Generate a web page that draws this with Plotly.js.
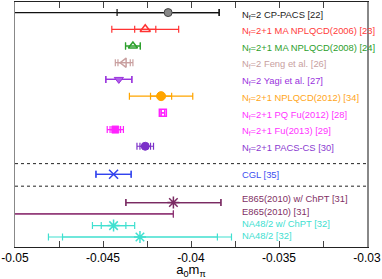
<!DOCTYPE html>
<html><head><meta charset="utf-8">
<script src="https://cdn.plot.ly/plotly-3.0.1.min.js"></script>
<style>html,body{margin:0;padding:0;background:#fff}#c{width:382px;height:279px}</style>
</head><body><div id="c"></div>
<script>
const labels = [
  "N<sub>f</sub>=2 CP-PACS [22]",
  "N<sub>f</sub>=2+1 MA NPLQCD(2006) [23]",
  "N<sub>f</sub>=2+1 MA NPLQCD(2008) [24]",
  "N<sub>f</sub>=2 Feng et al. [26]",
  "N<sub>f</sub>=2 Yagi et al. [27]",
  "N<sub>f</sub>=2+1 NPLQCD(2012) [34]",
  "N<sub>f</sub>=2+1 PQ Fu(2012) [28]",
  "N<sub>f</sub>=2+1 Fu(2013) [29]",
  "N<sub>f</sub>=2+1 PACS-CS [30]",
  "CGL [35]",
  "E865(2010) w/ ChPT [31]",
  "E865(2010) [31]",
  "NA48/2 w/ ChPT [32]",
  "NA48/2 [32]"
];
const rowPos   = [1, 2, 3, 4, 5, 6, 7, 8, 9, 10.68, 12.37, 13.05, 13.75, 14.43];
const labelPos = [1.15, 2.12, 3.1, 4.1, 5.1, 6.1, 7.1, 8.1, 9.1, 10.68, 12.15, 12.88, 13.65, 14.33];
const centers  = [-0.0413, -0.0426, -0.0433, -0.0438, -0.0441, -0.0417, -0.0416, -0.0443, -0.0426, -0.0444, -0.0410, -0.0520, -0.0444, -0.0429];
const statErr  = [0.0029, 0.0006, 0.00042, 0.00035, 0.00074, 0.0006, 0.0001, 0.0003, 0.0003, 0.0010, 0.0027, 0.0110, 0.0007, 0.0044];
const totPlus  = [0.0029, 0.0019, 0.00042, 0.0005, 0.00074, 0.0018, 0.0001, 0.00046, 0.00047, 0.0010, 0.0027, 0.0110, 0.0012, 0.0052];
const totMinus = [0.0100, 0.0019, 0.00042, 0.0005, 0.00074, 0.0018, 0.0001, 0.00046, 0.00047, 0.0010, 0.0027, 0.0110, 0.0012, 0.0052];
const colors   = ["#111111", "#ff3333", "#2ca02c", "#c9a0a0", "#9932dd", "#ffa500", "#ff22ff", "#ff22ff", "#7b30c8", "#3344ee", "#7a2a62", "#8e3474", "#40e0d0", "#40e0d0"];
const textColors = ["#222222", "#ff3b3b", "#2ca02c", "#c8a0a0", "#9932dd", "#ffa520", "#ff33ff", "#ff33ff", "#8a3ad0", "#3a4ef0", "#7f2f64", "#7f2f64", "#40e0d0", "#40e0d0"];
const symbols  = ["circle", "triangle-up-open", "triangle-up-open", "triangle-left-open", "triangle-down", "circle", "square-open", "square", "circle", "x-thin-open", "asterisk-open", "circle", "asterisk-open", "asterisk-open"];
const fills    = ["#888888", "#ff3333", "#2ca02c", "#c9a0a0", "#b060e8", "#ffa500", "#ff22ff", "#ff22ff", "#7b30c8", "#3344ee", "#7a2a62", "#8e3474", "#40e0d0", "#40e0d0"];
const sizes    = [8, 9, 8, 8, 8, 9, 7, 7, 8, 9, 10, 8, 10, 10];
const tickVals = [-0.05, -0.045, -0.04, -0.035, -0.03];
const tickText = ["-0.05", "-0.045", "-0.04", "-0.035", "-0.03"];

const traces = [];
for (let i = 0; i < labels.length; i++) {
  traces.push({
    type: "scatter", mode: "markers", x: [centers[i]], y: [rowPos[i]],
    marker: {size: 0.1, color: "rgba(0,0,0,0)"},
    error_x: {type: "data", symmetric: false, array: [totPlus[i]], arrayminus: [totMinus[i]],
              color: colors[i], thickness: 1.2, width: 3.5},
    hoverinfo: "skip", showlegend: false, cliponaxis: true
  });
  traces.push({
    type: "scatter", mode: "markers", x: [centers[i]], y: [rowPos[i]],
    marker: {symbol: symbols[i], size: sizes[i], color: fills[i],
             line: {color: i === 0 ? "#444" : colors[i], width: symbols[i].endsWith("open") ? 1.5 : 1}},
    error_x: {type: "data", array: [statErr[i]], color: colors[i], thickness: 1.2, width: 3.5},
    showlegend: false, cliponaxis: true
  });
}

const annotations = labels.map((t, i) => ({
  x: 0.643, xref: "paper", xanchor: "left", y: labelPos[i], yref: "y", yanchor: "middle",
  text: t, showarrow: false, borderpad: 0,
  font: {family: "Liberation Sans, Arial, sans-serif", size: 9.4, color: textColors[i]}
}));

const layout = {
  width: 382, height: 279,
  margin: {l: 15, r: 15, t: 2, b: 32},
  paper_bgcolor: "#fff", plot_bgcolor: "#fff",
  font: {family: "Liberation Sans, Arial, sans-serif", color: "#000"},
  xaxis: {
    range: [-0.05, -0.03], tickvals: tickVals, ticktext: tickText,
    ticks: "inside", ticklen: 6, tickcolor: "#444", tickwidth: 1,
    minor: {dtick: 0.0025, tick0: -0.05, ticks: "inside", ticklen: 6, tickcolor: "#444", tickwidth: 1},
    showline: true, linecolor: "#222", linewidth: 1, mirror: "ticks",
    showgrid: false, zeroline: false,
    tickfont: {size: 12, color: "#000"},
    title: {text: "a<sub>0</sub>m<sub>π</sub>", font: {size: 13, color: "#000"}, standoff: 6}
  },
  yaxis: {
    range: [15.03, 0.366], showticklabels: false, ticks: "",
    showline: true, linecolor: "#888", linewidth: 1.5, mirror: true,
    showgrid: false, zeroline: false
  },
  shapes: [10.04, 11.39].map(v => ({type: "line", xref: "paper", x0: 0, x1: 1, yref: "y", y0: v, y1: v,
    line: {color: "#222", width: 1, dash: "dot"}})),
  annotations: annotations
};

Plotly.newPlot("c", traces, layout, {staticPlot: true, displayModeBar: false});
</script></body></html>
